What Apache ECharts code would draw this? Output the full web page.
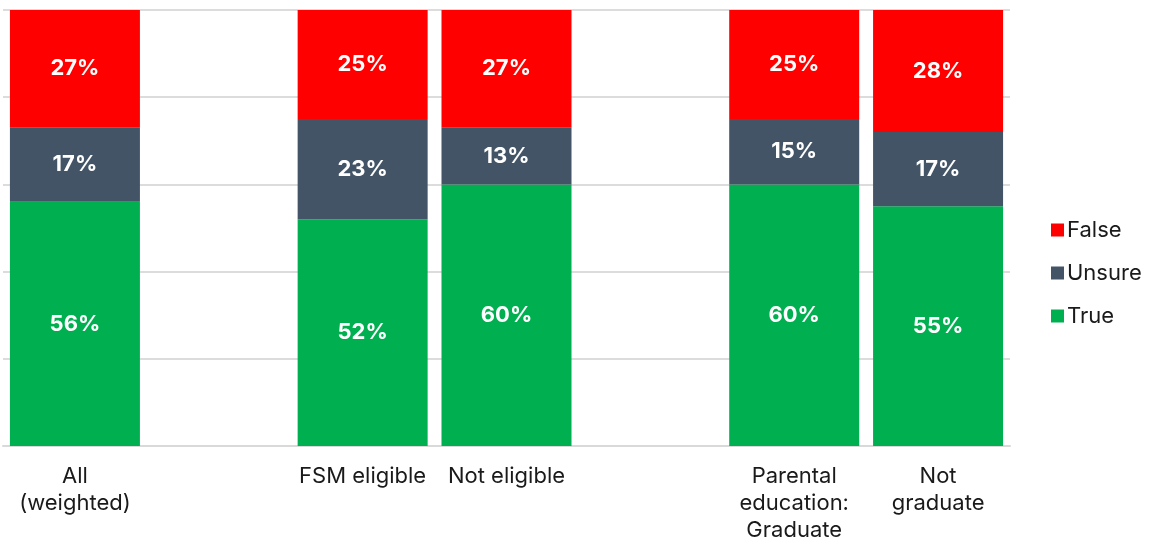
<!DOCTYPE html>
<html>
<head>
<meta charset="utf-8">
<script src="https://cdn.jsdelivr.net/npm/echarts@6/dist/echarts.min.js"></script>
<style>
  html, body { margin: 0; padding: 0; background: #fff; }
  #chart { width: 1155px; height: 544px; }
</style>
</head>
<body>
<div id="chart"></div>
<script>
// Groups along the x axis; empty strings leave a gap between groups
var categories = ['All\n(weighted)', '', 'FSM eligible', 'Not eligible', '', 'Parental\neducation:\nGraduate', 'Not\ngraduate'];
var trueValues   = [56, null, 52, 60, null, 60, 55];
var unsureValues = [17, null, 23, 13, null, 15, 17];
var falseValues  = [27, null, 25, 27, null, 25, 28];
var yTicks = { min: 0, max: 100, interval: 20 };

var FONT = 'Inter, "Noto Sans", sans-serif';

function seriesOf(name, data, color) {
  return {
    name: name,
    type: 'bar',
    stack: 'total',
    data: data,
    barWidth: 130,
    itemStyle: { color: color },
    label: {
      show: true,
      position: 'inside',
      color: '#ffffff',
      fontFamily: FONT,
      fontWeight: 'bold',
      fontSize: 22,
      formatter: function (p) { return p.value == null ? '' : p.value + '%'; }
    },
    emphasis: { disabled: true }
  };
}

var chart = echarts.init(document.getElementById('chart'), null, { renderer: 'canvas' });
chart.setOption({
  animation: false,
  backgroundColor: '#ffffff',
  grid: { left: 3, right: 145, top: 10, bottom: 95, containLabel: false },
  legend: {
    orient: 'vertical',
    left: 1046,
    top: 214,
    itemWidth: 13,
    itemHeight: 13,
    itemGap: 21,
    icon: 'rect',
    data: ['False', 'Unsure', 'True'],
    textStyle: { fontFamily: FONT, fontSize: 22, color: '#1a1a1a', padding: [0, 0, 0, -2] }
  },
  xAxis: {
    type: 'category',
    data: categories,
    axisTick: { show: false },
    axisLine: { lineStyle: { color: '#d9d9d9', width: 2 } },
    axisLabel: {
      interval: 0,
      margin: 17,
      fontFamily: FONT,
      fontSize: 22,
      lineHeight: 27,
      color: '#1a1a1a',
      align: 'center'
    }
  },
  yAxis: {
    type: 'value',
    min: yTicks.min,
    max: yTicks.max,
    interval: yTicks.interval,
    axisLabel: { show: false },
    axisLine: { show: false },
    axisTick: { show: false },
    splitLine: { lineStyle: { color: '#dcdcdc', width: 2 } }
  },
  series: [
    seriesOf('True', trueValues, '#00b050'),
    seriesOf('Unsure', unsureValues, '#425466'),
    seriesOf('False', falseValues, '#ff0000')
  ]
});
</script>
</body>
</html>
